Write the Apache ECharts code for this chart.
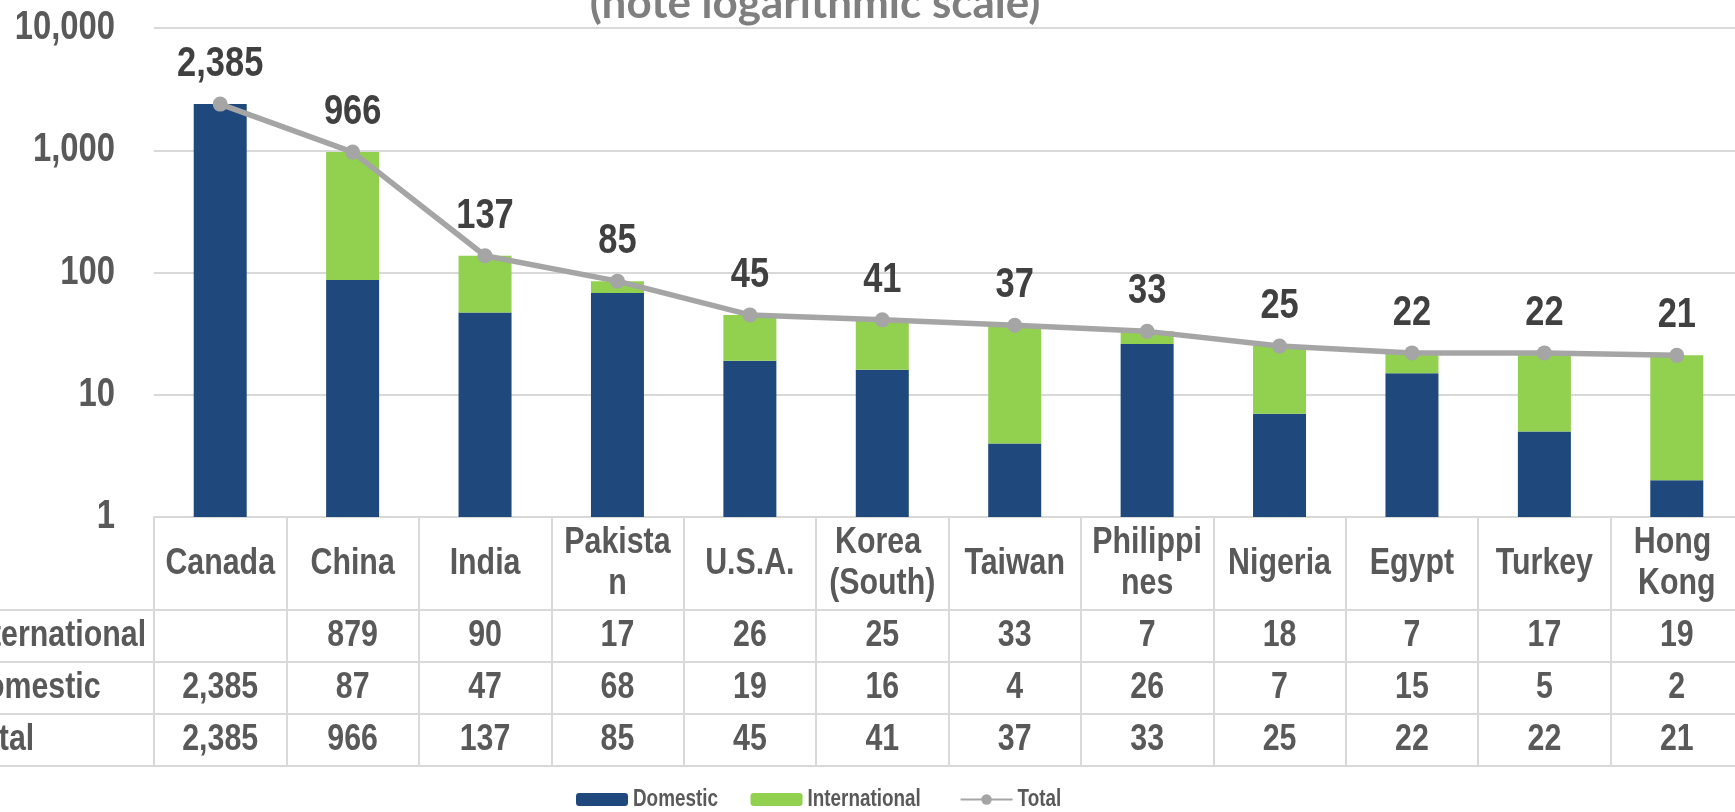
<!DOCTYPE html>
<html>
<head>
<meta charset="utf-8">
<script src="https://cdn.jsdelivr.net/npm/echarts@6/dist/echarts.min.js"></script>
<style>
  html, body { margin: 0; padding: 0; background: #fff; }
  #main { width: 1735px; height: 812px; }
</style>
</head>
<body>
<div id="main"></div>
<script>
// data
var categories = ['Canada', 'China', 'India', 'Pakistan', 'U.S.A.', 'Korea (South)',
                  'Taiwan', 'Philippines', 'Nigeria', 'Egypt', 'Turkey', 'Hong Kong'];
var domestic      = [2385, 87, 47, 68, 19, 16, 4, 26, 7, 15, 5, 2];
var international = [null, 879, 90, 17, 26, 25, 33, 7, 18, 7, 17, 19];
var total         = [2385, 966, 137, 85, 45, 41, 37, 33, 25, 22, 22, 21];
var yTicks = [1, 10, 100, 1000, 10000];
var rowNames = ['International', 'Domestic', 'Total'];

// no Arial Narrow here: use Liberation Sans and squeeze it afterwards
var NARROW = "'Liberation Sans Narrow', 'Liberation Sans', Arial, sans-serif";
var SQUEEZE = 0.82;
var GREY = '#595959';
var BORDER = '#d9d9d9';

// layout
var GRID_LEFT = 154, GRID_TOP = 28, GRID_BOTTOM_Y = 517;
var HEADER_H = 93, ROW_H = 52;

function fmt(v) {
    if (v === null || v === undefined) return '';
    return v.toLocaleString('en-US');
}

var chart = echarts.init(document.getElementById('main'));

// table rows are drawn as extra category axes stacked under the plot
var rows = [international, domestic, total];
var xAxes = [{
    type: 'category',
    data: categories,
    position: 'bottom',
    axisLine: { show: true, lineStyle: { color: BORDER, width: 2 } },
    axisTick: { show: true, interval: 0, length: HEADER_H, lineStyle: { color: BORDER, width: 2 } },
    axisLabel: {
        interval: 0,
        margin: HEADER_H / 2,
        verticalAlign: 'middle',
        width: 144,
        overflow: 'break',
        lineHeight: 41,
        fontFamily: NARROW, fontWeight: 'bold', fontSize: 37, color: GREY
    }
}];
rows.forEach(function (arr, r) {
    xAxes.push({
        type: 'category',
        data: categories,
        position: 'bottom',
        offset: HEADER_H + r * ROW_H,
        axisLine: { show: true, lineStyle: { color: BORDER, width: 2 } },
        axisTick: { show: true, interval: 0, length: ROW_H, lineStyle: { color: BORDER, width: 2 } },
        axisLabel: {
            interval: 0,
            margin: ROW_H / 2,
            verticalAlign: 'middle',
            formatter: function (v, i) { return fmt(arr[i]); },
            fontFamily: NARROW, fontWeight: 'bold', fontSize: 37, color: GREY
        }
    });
});
// bottom border of the table
xAxes.push({
    type: 'category',
    data: categories,
    position: 'bottom',
    offset: HEADER_H + 3 * ROW_H,
    axisLine: { show: true, lineStyle: { color: BORDER, width: 2 } },
    axisTick: { show: false },
    axisLabel: { show: false }
});

// left part of row borders and row titles
var graphics = [];
for (var k = 0; k <= 3; k++) {
    var yy = GRID_BOTTOM_Y + HEADER_H + k * ROW_H;
    graphics.push({
        type: 'line', silent: true,
        shape: { x1: 0, y1: yy, x2: GRID_LEFT, y2: yy },
        style: { stroke: BORDER, lineWidth: 2 }
    });
}
rowNames.forEach(function (name, r) {
    graphics.push({
        type: 'text', silent: true,
        x: -36, y: GRID_BOTTOM_Y + HEADER_H + r * ROW_H + ROW_H / 2,
        style: {
            text: name, fill: GREY, align: 'left', verticalAlign: 'middle',
            fontFamily: NARROW, fontWeight: 'bold', fontSize: 37
        }
    });
});
// title, cut off at the top like the original
graphics.push({
    type: 'text', silent: true,
    x: 815, y: 4,
    style: {
        text: '(note logarithmic scale)', fill: '#7f7f7f', align: 'center', verticalAlign: 'middle',
        fontFamily: 'Lato, "Open Sans", sans-serif', fontWeight: 'bold', fontSize: 44
    }
});

var option = {
    animation: false,
    backgroundColor: '#fff',
    grid: {
        left: GRID_LEFT, top: GRID_TOP, width: 1589, height: GRID_BOTTOM_Y - GRID_TOP,
        containLabel: false, outerBoundsMode: 'none'
    },
    legend: {
        left: 576, top: 788, padding: 0,
        // gap is small because the texts get squeezed after layout
        itemWidth: 52, itemHeight: 13, itemGap: 14,
        data: ['Domestic', 'International', 'Total'],
        textStyle: { fontFamily: NARROW, fontWeight: 'bold', fontSize: 23, color: GREY }
    },
    xAxis: xAxes,
    yAxis: {
        type: 'log',
        logBase: 10,
        min: yTicks[0],
        max: yTicks[yTicks.length - 1],
        axisLine: { show: false },
        axisTick: { show: false },
        splitLine: { show: true, lineStyle: { color: BORDER, width: 2 } },
        axisLabel: {
            margin: 39,
            formatter: function (v) { return fmt(v); },
            fontFamily: NARROW, fontWeight: 'bold', fontSize: 40, color: GREY
        }
    },
    graphic: graphics,
    series: [
        {
            name: 'Domestic', type: 'bar', stack: 'all', barWidth: 53,
            itemStyle: { color: '#1f497d' },
            data: domestic
        },
        {
            name: 'International', type: 'bar', stack: 'all', barWidth: 53,
            itemStyle: { color: '#92d050' },
            data: international.map(function (v) { return v === null ? '-' : v; })
        },
        {
            name: 'Total', type: 'line', z: 5,
            symbol: 'circle', symbolSize: 15,
            itemStyle: { color: '#a5a5a5' },
            lineStyle: { color: '#a5a5a5', width: 5.5 },
            label: {
                show: true, position: 'top', distance: 11,
                formatter: function (p) { return fmt(p.value); },
                fontFamily: NARROW, fontWeight: 'bold', fontSize: 42, color: '#404040'
            },
            data: total
        }
    ]
};
chart.setOption(option);

// squeeze the "narrow" texts horizontally around their anchor point
function squeeze(el) {
    if (el && el.type === 'text' && el.style && el.style.fontFamily === NARROW) {
        el.originX = el.style.x || 0;
        el.originY = el.style.y || 0;
        el.scaleX = SQUEEZE;
        el.markRedraw();
    }
}
var zr = chart.getZr();
zr.storage.getRoots().forEach(function (root) {
    var visit = function (el) {
        squeeze(el);
        if (el.getTextContent) squeeze(el.getTextContent());
    };
    visit(root);
    if (root.traverse) root.traverse(visit);
});
zr.refresh();
</script>
</body>
</html>
